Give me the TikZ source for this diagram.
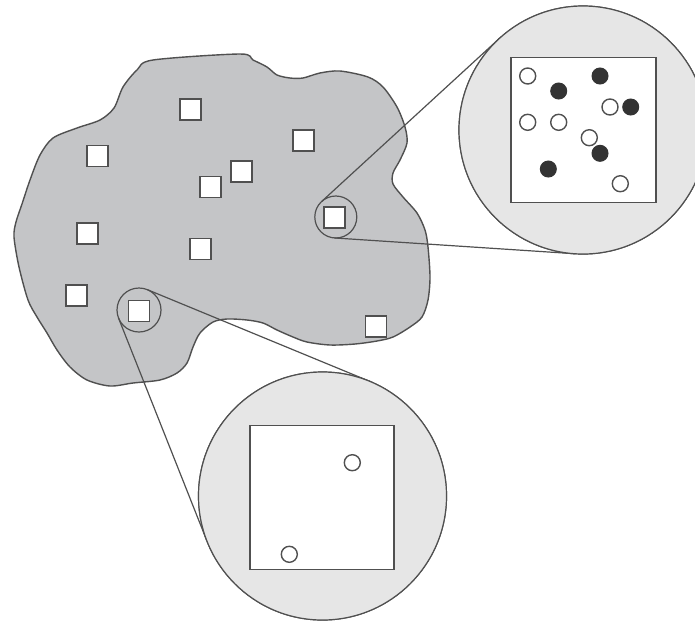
\documentclass[tikz,border=0pt]{standalone}
\usetikzlibrary{calc}
\definecolor{blobfill}{HTML}{C4C5C7}
\definecolor{edge}{HTML}{505050}
\definecolor{lensfill}{HTML}{E6E6E6}
\definecolor{dotdark}{HTML}{333333}
\begin{document}
\begin{tikzpicture}[x=1pt,y=-1pt,
  sq/.style={draw=edge,fill=white,line width=1.8pt,minimum size=21pt,inner sep=0pt,outer sep=0pt},
  ring/.style={circle,draw=edge,line width=1.2pt,inner sep=0pt,outer sep=0pt},
  lens/.style={circle,draw=edge,fill=lensfill,line width=1.2pt,inner sep=0pt,outer sep=0pt,minimum size=248pt},
  frame/.style={draw=edge,fill=white,line width=1.8pt,inner sep=0pt,outer sep=0pt},
  opendot/.style={circle,draw=edge,fill=white,line width=1.4pt,minimum size=16pt,inner sep=0pt},
  fulldot/.style={circle,draw=dotdark,fill=dotdark,line width=1pt,minimum size=16pt,inner sep=0pt},
  link/.style={draw=edge,line width=1.2pt}]
\useasboundingbox (0,0) rectangle (695,622);
% blob
\draw[fill=blobfill,draw=edge,line width=1.4pt] plot[smooth cycle,tension=0.5] coordinates {
(153,60) (240,54) (253,60) (267,67) (277,75) (290,78) (303,78) (320,73) (340,71) (368,77)
(383,87) (397,107) (405,127) (407,143) (400,160) (393,173) (393,184) (403,197) (417,213)
(425,230) (428,247) (430,277) (428,300) (422,317) (410,327) (393,337) (377,341) (355,344)
(330,345) (307,342) (293,337) (277,330) (263,323) (247,320) (227,319) (213,322) (200,333)
(193,347) (187,363) (177,373) (160,380) (133,383) (110,386) (87,380) (70,367) (57,350)
(47,333) (37,317) (28,300) (19,267) (14,237) (16,222) (22,204) (30,180) (40,155) (53,138)
(77,128) (100,120) (114,108) (123,87) (137,70)};
% small squares
\node[sq] (q1) at (190.5,109.7) {};
\node[sq] (q2) at (303.7,140.3) {};
\node[sq] (q3) at (97.8,156) {};
\node[sq] (q4) at (241.7,171.7) {};
\node[sq] (q5) at (210.5,187) {};
\node[sq] (q6) at (87.2,233.3) {};
\node[sq] (q7) at (200.3,249) {};
\node[sq] (q8) at (76.7,295.3) {};
\node[sq] (q9) at (139,311) {};
\node[sq] (q10) at (334.7,217.8) {};
\node[sq] (q11) at (376,326.3) {};
% small circles
\node[ring,minimum size=42pt] (s1) at (335.8,217) {};
\node[ring,minimum size=44pt] (s2) at (139,310) {};
% lenses
\node[lens] (L1) at (583,130) {};
\node[lens] (L2) at (322.5,496) {};
% connectors
\draw[link] (s1.132.52) -- (L1.132.52);
\draw[link] (s1.266.24) -- (L1.266.24);
\draw[link] (s2.201.63) -- (L2.201.63);
\draw[link] (s2.67.59) -- (L2.67.59);
% redraw lens outlines over connector ends
\node[lens] (L1b) at (583,130) {};
\node[lens] (L2b) at (322.5,496) {};
% magnified squares
\node[frame,minimum size=145pt] (F1) at (583.5,130) {};
\node[frame,minimum size=144pt] (F2) at (322,497.5) {};
% dots in first lens
\node[opendot] (a1) at (527.7,76) {};
\node[fulldot] (a2) at (600,76) {};
\node[fulldot] (a3) at (558.7,91) {};
\node[opendot] (a4) at (610,107) {};
\node[fulldot] (a5) at (630.7,107) {};
\node[opendot] (a6) at (527.7,122.3) {};
\node[opendot] (a7) at (558.7,122.3) {};
\node[opendot] (a8) at (589.3,137.7) {};
\node[fulldot] (a9) at (600,153.3) {};
\node[fulldot] (a10) at (548.3,169) {};
\node[opendot] (a11) at (620.3,183.7) {};
% dots in second lens
\node[opendot] (b1) at (352.3,462.7) {};
\node[opendot] (b2) at (289.3,554.3) {};
\end{tikzpicture}
\end{document}
